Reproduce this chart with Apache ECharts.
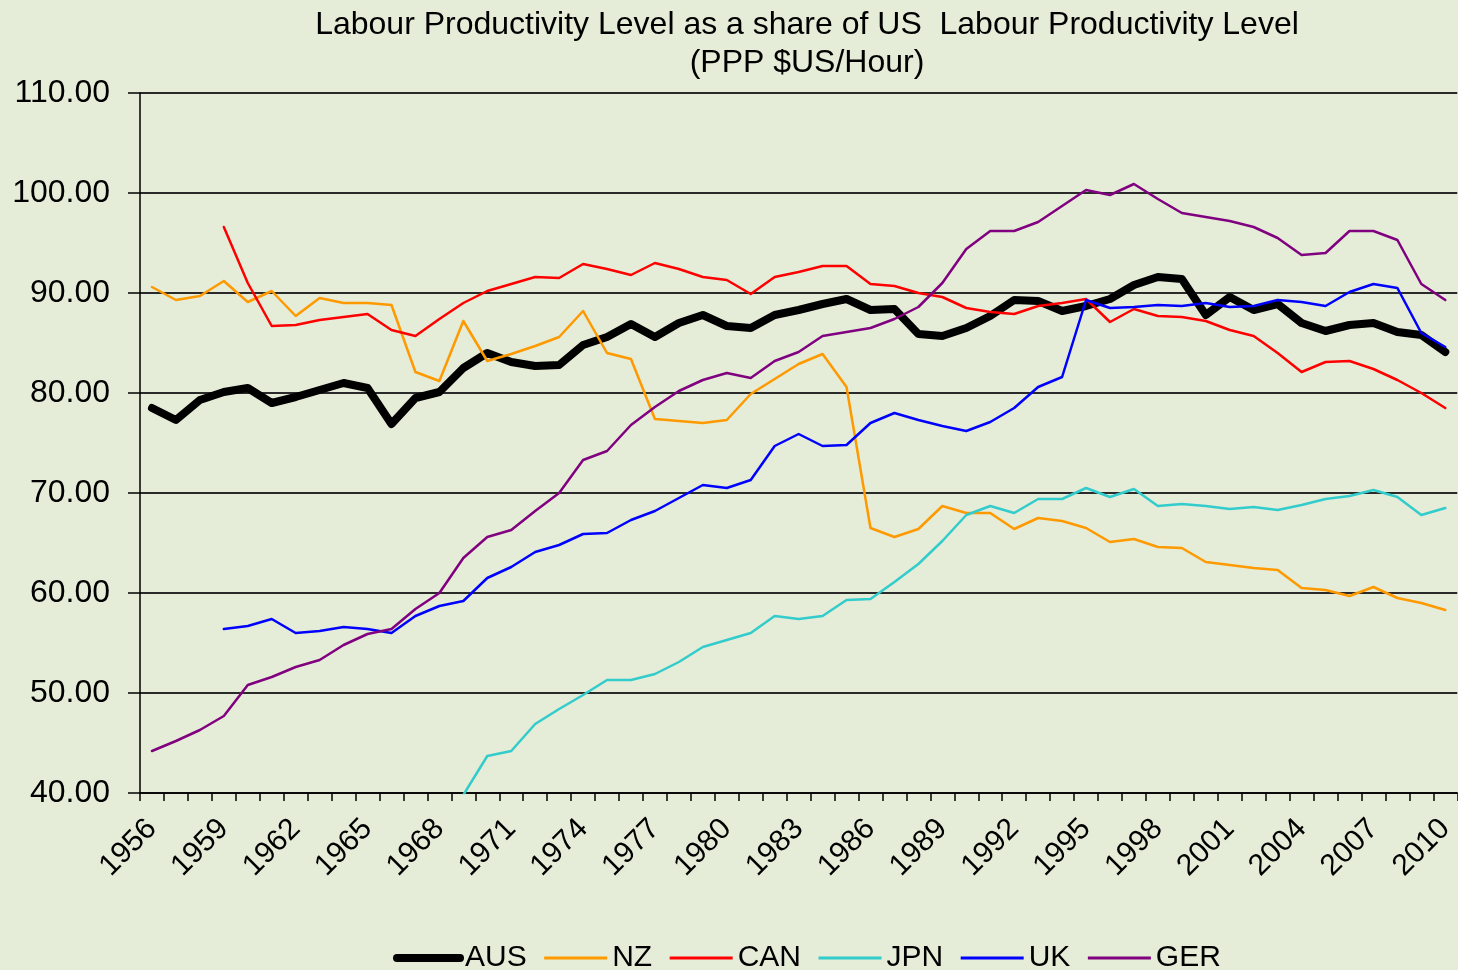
<!DOCTYPE html>
<html>
<head>
<meta charset="utf-8">
<script src="https://cdn.jsdelivr.net/npm/echarts@6/dist/echarts.min.js"></script>
<style>
html,body{margin:0;padding:0;background:#E5ECD7;}
#chart{width:1458px;height:970px;}
</style>
</head>
<body>
<div id="chart"></div>
<script>
var years = [];
for (var y = 1956; y <= 2010; y++) years.push(String(y));

var titleLines = ['Labour Productivity Level as a share of US  Labour Productivity Level', '(PPP $US/Hour)'];
var yTicks = [40, 50, 60, 70, 80, 90, 100, 110];

var AUS = [78.5, 77.3, 79.3, 80.1, 80.5, 79.0, 79.6, 80.3, 81.0, 80.5,
  76.9, 79.5, 80.1, 82.5, 84.0, 83.1, 82.7, 82.8, 84.8, 85.6,
  86.9, 85.6, 87.0, 87.8, 86.7, 86.5, 87.8, 88.3, 88.9, 89.4,
  88.3, 88.4, 85.9, 85.7, 86.5, 87.7, 89.3, 89.2, 88.2, 88.7,
  89.4, 90.8, 91.6, 91.4, 87.8, 89.6, 88.3, 88.9, 87.0, 86.2,
  86.8, 87.0, 86.1, 85.8, 84.1];
var NZ = [90.6, 89.3, 89.7, 91.2, 89.1, 90.2, 87.7, 89.5, 89.0, 89.0,
  88.8, 82.1, 81.2, 87.2, 83.2, 83.9, 84.7, 85.6, 88.2, 84.0,
  83.4, 77.4, 77.2, 77.0, 77.3, 79.9, 81.4, 82.9, 83.9, 80.6,
  66.5, 65.6, 66.4, 68.7, 68.0, 68.0, 66.4, 67.5, 67.2, 66.5,
  65.1, 65.4, 64.6, 64.5, 63.1, 62.8, 62.5, 62.3, 60.5, 60.3,
  59.7, 60.6, 59.5, 59.0, 58.3];
var CAN = [null, null, null, 96.6, 91.0, 86.7, 86.8, 87.3, 87.6, 87.9,
  86.3, 85.7, 87.4, 89.0, 90.2, 90.9, 91.6, 91.5, 92.9, 92.4,
  91.8, 93.0, 92.4, 91.6, 91.3, 89.9, 91.6, 92.1, 92.7, 92.7,
  90.9, 90.7, 90.0, 89.6, 88.5, 88.1, 87.9, 88.7, 89.0, 89.4,
  87.1, 88.4, 87.7, 87.6, 87.2, 86.3, 85.7, 84.0, 82.1, 83.1,
  83.2, 82.4, 81.3, 80.0, 78.5];
var JPN = [null, null, null, null, null, null, null, null, null, null,
  null, null, null, 39.8, 43.7, 44.2, 46.9, 48.4, 49.8, 51.3,
  51.3, 51.9, 53.1, 54.6, 55.3, 56.0, 57.7, 57.4, 57.7, 59.3,
  59.4, 61.1, 62.9, 65.2, 67.8, 68.7, 68.0, 69.4, 69.4, 70.5,
  69.6, 70.4, 68.7, 68.9, 68.7, 68.4, 68.6, 68.3, 68.8, 69.4,
  69.7, 70.3, 69.6, 67.8, 68.5];
var UK = [null, null, null, 56.4, 56.7, 57.4, 56.0, 56.2, 56.6, 56.4,
  56.0, 57.7, 58.7, 59.2, 61.5, 62.6, 64.1, 64.8, 65.9, 66.0,
  67.3, 68.2, 69.5, 70.8, 70.5, 71.3, 74.7, 75.9, 74.7, 74.8,
  77.0, 78.0, 77.3, 76.7, 76.2, 77.1, 78.5, 80.6, 81.6, 89.3,
  88.5, 88.6, 88.8, 88.7, 89.0, 88.6, 88.7, 89.3, 89.1, 88.7,
  90.1, 90.9, 90.5, 86.0, 84.6];
var GER = [44.2, 45.2, 46.3, 47.7, 50.8, 51.6, 52.6, 53.3, 54.8, 55.9,
  56.4, 58.4, 60.0, 63.5, 65.6, 66.3, 68.2, 70.0, 73.3, 74.2,
  76.8, 78.6, 80.2, 81.3, 82.0, 81.5, 83.2, 84.1, 85.7, 86.1,
  86.5, 87.4, 88.6, 91.0, 94.4, 96.2, 96.2, 97.1, 98.7, 100.3,
  99.8, 100.9, 99.4, 98.0, 97.6, 97.2, 96.6, 95.5, 93.8, 94.0,
  96.2, 96.2, 95.3, 90.9, 89.3];

var seriesNames = ['AUS', 'NZ', 'CAN', 'JPN', 'UK', 'GER'];
var seriesData = [AUS, NZ, CAN, JPN, UK, GER];
var seriesColors = ['#000000', '#FF9900', '#FF0000', '#33CCCC', '#0000FF', '#800080'];
var seriesWidths = [8, 2.5, 2.5, 2.5, 2.5, 2.5];

var FONT = "'Liberation Sans', Arial, sans-serif";
var chart = echarts.init(document.getElementById('chart'), null, {renderer: 'canvas'});

var series = seriesNames.map(function (n, i) {
  return {
    name: n,
    type: 'line',
    data: seriesData[i],
    symbol: 'none',
    connectNulls: false,
    color: seriesColors[i],
    lineStyle: {color: seriesColors[i], width: seriesWidths[i], cap: 'round', join: 'round'},
    z: 2 + i
  };
});

var option = {
  backgroundColor: '#E5ECD7',
  animation: false,
  graphic: titleLines.map(function (t, i) {
    return {
      type: 'text', x: 807, y: 25 + i * 38,
      style: {text: t, fill: '#000', font: '32px ' + FONT, textAlign: 'center', textVerticalAlign: 'middle'}
    };
  }),
  legend: {
    left: 388, top: 938,
    itemWidth: 63, itemHeight: 14, itemGap: 16,
    itemStyle: {opacity: 0},
    textStyle: {fontSize: 30, fontFamily: FONT, color: '#000'},
    data: seriesNames.map(function (n, i) {
      return {name: n, itemStyle: {opacity: 0}, lineStyle: {width: i === 0 ? 8 : 3, color: seriesColors[i], cap: i === 0 ? 'round' : 'butt'}};
    })
  },
  grid: {left: 140, top: 93, width: 1319, height: 700, containLabel: false},
  xAxis: {
    type: 'category', data: years, boundaryGap: true,
    axisLine: {lineStyle: {color: '#000', width: 1.5}},
    axisTick: {show: true, interval: 0, length: 8, lineStyle: {color: '#000', width: 1.5}},
    axisLabel: {interval: 2, rotate: 45, fontSize: 30, fontFamily: FONT, color: '#000', margin: 31},
    splitLine: {show: false}
  },
  yAxis: {
    type: 'value', min: yTicks[0], max: yTicks[yTicks.length - 1], interval: 10,
    axisLine: {show: true, lineStyle: {color: '#000', width: 1.5}},
    axisTick: {show: true, length: 12, lineStyle: {color: '#000', width: 1.5}},
    axisLabel: {fontSize: 32, fontFamily: FONT, color: '#000', margin: 30,
      formatter: function (v) { return v.toFixed(2); }},
    splitLine: {show: true, lineStyle: {color: '#2a2a2a', width: 2}}
  },
  series: series
};
chart.setOption(option);
</script>
</body>
</html>
